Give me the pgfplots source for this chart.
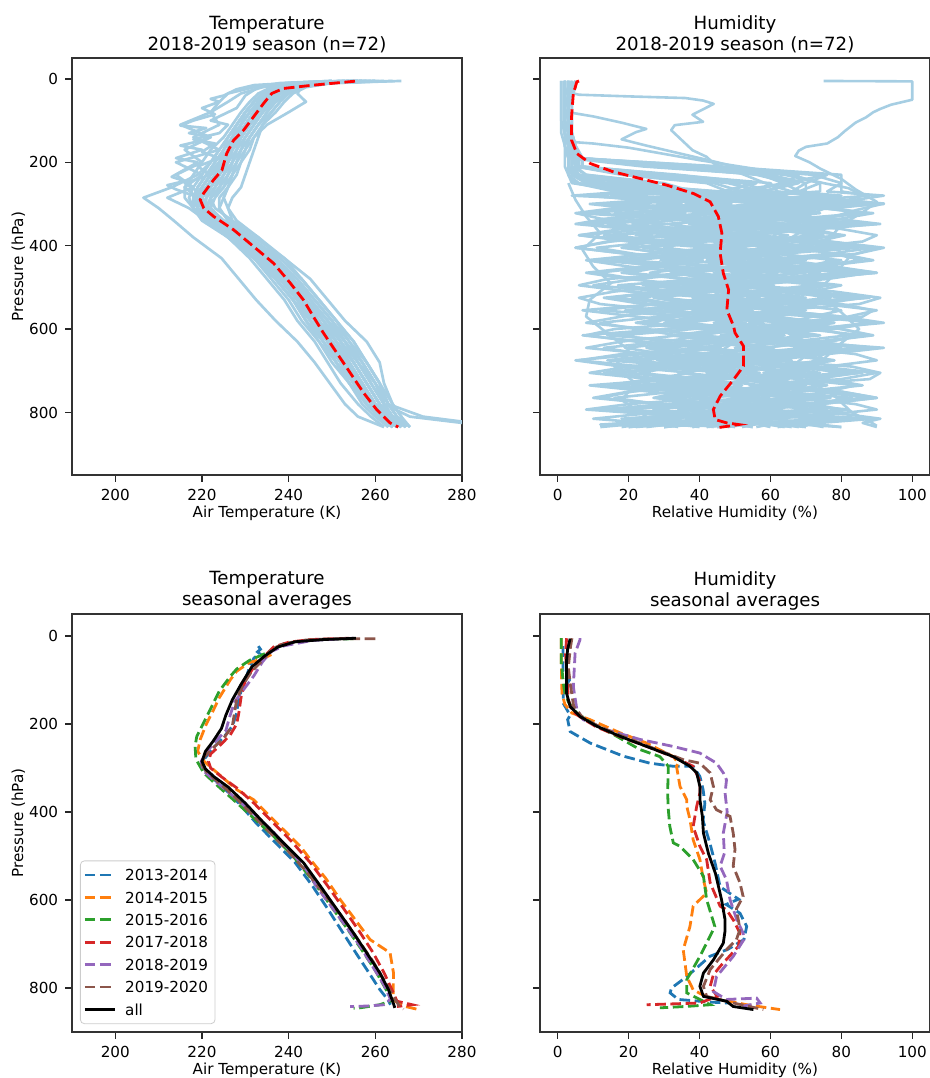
\documentclass[border=0pt]{standalone}
\usepackage{fontspec}
\setmainfont{DejaVu Sans}
\usepackage{pgfplots}
\usepackage{pgfplotstable}
\pgfplotsset{compat=1.18}
\definecolor{lb}{HTML}{A6CEE3}
\definecolor{c0}{HTML}{1F77B4}
\definecolor{c1}{HTML}{FF7F0E}
\definecolor{c2}{HTML}{2CA02C}
\definecolor{c3}{HTML}{D62728}
\definecolor{c4}{HTML}{9467BD}
\definecolor{c5}{HTML}{8C564B}

\pgfplotstableread{
p T1 T2 T3 T4 T5 T6 T7 T8 T9 T10 T11 T12 T13 T14 T15 T16 T17 T18 T19 T20 T21 T22 T23 T24 T25 T26 T27 T28 T29 T30 T31 T32 T33 T34
5 257 262 252 255 264 250 258 253 256 260 254 257 266 250 257 259 254 255 258 260 253 256 256 254 259 253 257 261 255 258 252 256 260 255
10 246 249 243 244 250 240 247 242 246 248 244 246 250 238 245 247 243 245 246 248 242 245 245 244 247 243 246 248 245 247 242 246 249 244
20 240 243 237 238 244 234 241 236 240 242 238 240 243 232 239 241 237 239 240 243 237 239 239 238 241 237 240 242 239 241 236 240 243 239
35 237 240 234 235 241 229 238 233 237 239 235 237 240 226 236 238 234 236 237 242 235 236 236 235 238 234 237 239 236 238 234 237 240 236
55 235 238 232 233 239 226 236 231 235 237 232 235 238 224 234 236 232 234 235 244 233 234 234 233 236 232 235 237 234 236 232 235 237 234
80 233 236 230 231 237 222 234 229 233 235 230 233 236 222 232 234 230 232 233 240 231 231 232 231 234 230 232 235 232 233 230 233 234 232
110 231 233 228 229 234 224 232 227 231 233 228 231 234 215 230 232 228 230 231 235 229 229 230 229 232 228 230 233 230 231 229 231 231 230
140 229 231 226 228 232 218 230 225 229 231 226 229 233 222 228 230 226 228 229 232 227 227 228 227 230 227 228 231 229 229 227 229 229 228
170 227 230 224 226 231 224 228 222 228 229 224 227 232 216 227 229 225 226 227 230 226 225 227 225 228 226 226 229 227 227 226 228 227 226
200 226 229 222 225 229 214 227 220 227 228 222 225 231 220 226 228 224 224 225 228 225 223 226 223 226 225 224 227 226 225 224 227 225 224
230 224 227 220 223 228 220 226 218 226 227 219 223 230 214 224 227 222 222 223 226 223 221 225 221 224 224 222 225 224 222 223 225 223 221
260 222 226 218 221 226 216 225 216 224 225 213 221 229 218 222 226 220 220 221 224 221 219 223 219 222 222 220 223 223 220 221 224 221 219
285 220 224 217 219 225 219 222 216 222 223 206.5 220 227 212 221 225 218 219 220 222 220 218 221 218 220 220 218 222 221 219 219 222 219 218
310 221 224 218 219 226 218 221 218 223 222 210 221 226 217 220 224 219 220 221 222 221 219 221 218 220 219 219 222 220 220 219 221 218 220
340 224 226 221 222 228 221 223 222 227 224 213.5 224 227 221 223 226 222 222 224 225 225 221 223 221 222 221 223 224 222 223 222 222 220 224
380 230 231 227 228 233 226 229 228 233 229 218 230 231 227 229 232 227 226 230 231 231 226 228 227 228 227 229 230 228 229 227 227 226 231
430 236 237 233 234 238 232 235 234 239 235 224.5 236 236 233 235 239 233 231 236 237 237 232 234 233 235 234 235 236 234 236 233 232 233 238
480 240 242 237 238 243 237 239 239 243 240 228.5 241 241 238 240 245 237 235 241 241 242 236 239 238 240 238 239 241 238 241 237 237 238 243
530 244 246 241 242 247 241 243 243 247 244 232.5 245 245 242 245 249 241 239 245 245 246 240 243 242 244 242 244 245 242 246 241 241 243 247
580 247 250 244 245 251 244 247 246 251 248 237 249 249 245 249 253 245 242 248 249 250 243 247 246 248 246 248 249 246 250 245 244 247 251
630 251 253 248 249 254 247 250 250 255 252 242 253 253 249 253 258 248 246 251 252 253 247 250 249 252 250 251 252 249 254 248 248 251 255
680 254 257 251 252 258 251 253 253 258 256 246 256 256 252 257 261 252 249 255 255 256 250 254 253 255 254 254 255 252 257 251 251 255 258
730 257 260 254 255 261 254 256 256 261 259 249.5 260 259 255 260 262 256 252 258 258 259 254 257 256 258 257 257 258 255 260 254 255 258 261
780 260 263 258 258 264 257 259 259 262 262 253 263 262 258 263 264 260 256 261 261 262 258 260 259 261 260 260 261 259 262 258 258 261 263
810 263 265 261 261 266 260 262 262 264 264 256 271 268 261 265 266 263 259 264 263 264 261 263 262 263 263 262 264 262 264 261 262 263 265
835 266 268 264 264 267 263 265 265 266 267 262 290 288 264 266 268 266 262 267 265 266 264 265 264 266 265 265 266 265 267 263 265 266 267
}\tabT

\pgfplotstableread{
p H1 H2 H3 H4 H5 H6 H7 H8 H9 H10 H11 H12 H13 H14 H15 H16 H17 H18 H19 H20 H21 H22 H23 H24 H25 H26 H27 H28 H29 H30 H31 H32 H33 H34
5 3 2 4 2 5 3 2 3 4 2 3 5 2 3 2 4 3 2 3 4 2 3 2 5 1 2 4 1 3 2 5 2 3 2
20 3 2 4 2 4 3 2 3 4 2 3 5 2 3 2 4 3 2 3 4 2 3 2 5 1 2 3 1 3 2 4 2 3 2
40 2 2 3 2 4 3 2 2 3 2 3 4 2 3 2 3 3 2 3 4 2 3 2 4 1 2 3 1 3 2 4 2 3 2
70 2 2 3 2 3 2 2 2 3 3 3 4 2 3 2 3 3 2 3 3 2 3 2 4 1 2 3 1 3 2 4 2 3 2
100 3 2 3 2 3 2 3 2 3 3 3 4 2 3 2 3 3 2 3 3 2 3 2 4 1 2 3 1 3 2 4 2 3 2
130 3 3 4 2 4 3 3 2 3 3 3 4 2 4 3 3 3 2 3 3 2 3 2 4 2 2 3 1 3 2 4 2 3 3
160 4 3 5 3 4 3 3 3 4 3 4 5 3 4 3 3 3 3 4 4 3 3 2 5 2 2 4 2 3 3 5 3 4 3
190 5 4 7 3 6 4 4 4 5 5 4 7 3 6 4 5 4 4 5 5 3 4 3 6 3 3 5 2 4 3 6 3 4 4
210 5 4 32 3 6 4 26 4 5 38 4 7 3 44 4 6 4 30 5 36 3 46 3 6 24 3 6 2 34 3 40 3 5 4
230 24 5 64 3 30 6 60 5 20 72 4 32 3 76 6 26 4 56 8 68 5 80 3 34 58 4 22 3 66 6 76 3 18 8
250 50 12 74 5 56 22 70 18 44 80 8 60 5 70 20 52 8 66 26 64 14 80 4 56 68 10 48 5 74 18 64 6 42 30
270 55 34 74 22 47 40 70 44 52 80 30 62 25 66 38 60 28 58 34 54 46 76 20 46 58 24 58 16 68 22 50 18 48 38
280 42 50 57 40 34 56 47 55 32 88 19 73 16 80 15 78 9 74 17 64 35 92 4 57 48 42 34 34 48 37 34 36 36 54
290 62 42 80 30 53 47 64 38 45 72 48 56 40 70 32 68 22 66 40 47 56 84 28 40 70 36 50 24 60 28 58 26 56 46
300 76 28 92 14 72 38 88 20 58 57 64 39 62 54 49 58 35 58 64 36 68 69 45 29 90 29 66 14 72 20 82 9 76 38
310 58 37 72 26 60 54 72 30 38 66 40 50 52 62 26 75 16 74 48 54 48 78 22 46 78 46 42 32 52 36 66 20 64 54
322 45 46 55 36 40 62 49 42 25 74 16 68 40 71 9 86 5 89 25 72 29 87 6 64 58 54 19 43 40 45 42 31 52 63
335 64 30 78 18 52 46 66 25 44 58 33 57 60 56 32 68 12 80 42 62 42 72 30 54 70 38 36 26 60 30 58 14 72 48
348 76 21 91 7 65 31 90 14 63 50 50 46 73 41 56 50 31 64 59 52 61 64 54 37 82 22 60 9 80 15 75 5 85 32
360 57 36 70 24 46 40 74 32 50 65 26 64 54 50 39 61 18 72 36 70 48 80 38 48 62 30 44 20 68 24 52 20 66 40
375 45 44 54 34 34 56 51 49 38 81 6 75 34 65 22 72 6 80 13 80 36 90 15 59 50 46 28 31 56 40 28 38 47 49
390 66 27 77 15 55 48 68 38 57 73 20 58 47 56 45 54 26 65 30 62 56 86 32 42 70 38 52 14 76 32 44 28 60 34
405 80 18 92 5 68 40 85 20 70 64 43 41 60 48 62 44 46 50 53 44 76 70 49 25 89 30 76 5 90 24 67 11 73 26
420 61 33 84 20 48 56 62 30 50 80 26 52 40 63 38 62 34 58 36 55 64 78 26 36 76 46 60 20 84 40 50 22 54 42
435 42 49 60 38 29 65 46 41 31 89 10 70 21 78 15 80 15 67 20 66 45 86 8 53 56 62 44 38 65 56 34 40 42 58
450 54 41 76 28 42 50 70 24 44 74 33 60 34 70 32 69 28 52 44 48 58 70 20 42 68 54 68 28 78 48 58 30 62 50
465 74 26 90 11 62 34 88 8 56 59 56 49 54 55 56 52 41 44 68 38 70 55 37 32 80 38 84 18 90 33 82 20 82 35
480 63 35 70 22 50 43 76 20 37 68 40 66 42 64 40 62 22 60 52 56 50 64 14 50 60 46 60 36 70 42 66 38 70 44
495 51 44 54 33 38 52 53 38 25 77 17 76 29 73 24 72 10 76 29 74 31 80 6 61 47 54 36 47 50 51 49 49 51 53
510 71 29 78 16 57 38 70 27 45 62 34 59 48 58 47 55 30 68 46 64 44 72 20 44 66 38 52 30 62 36 72 32 64 38
525 84 15 91 6 70 30 87 16 64 46 51 42 68 50 64 38 50 60 63 47 57 64 44 27 86 29 69 13 82 21 88 15 77 23
540 65 25 85 12 51 46 64 34 52 55 28 53 56 65 42 48 38 75 40 58 38 80 28 38 74 44 46 24 70 30 64 26 58 32
555 45 42 62 29 32 62 48 46 39 70 7 64 43 80 19 66 26 90 24 69 26 89 12 55 61 60 30 42 58 46 40 44 38 48
570 57 34 80 18 45 53 72 29 58 62 22 47 62 72 36 56 45 82 48 52 45 86 36 44 80 52 54 32 78 38 56 34 50 40
585 76 26 92 8 64 44 89 12 78 54 39 36 74 64 53 46 58 66 72 34 64 71 53 34 90 36 78 22 88 30 72 24 70 32
600 64 41 72 25 52 60 78 22 66 70 16 54 55 80 30 63 38 74 55 45 52 80 30 52 72 44 62 40 72 46 48 42 58 48
615 52 56 50 42 40 70 55 34 46 86 8 72 36 89 14 74 18 82 38 62 32 88 7 63 52 52 46 58 52 55 32 53 46 64
630 73 46 68 30 60 55 72 18 58 77 22 61 48 74 37 56 30 66 62 52 45 73 24 46 64 36 70 48 64 40 56 36 66 56
645 86 30 92 13 73 40 89 8 70 68 46 50 61 58 60 39 43 50 79 42 58 58 41 29 77 27 86 31 76 25 80 19 86 41
660 68 38 76 24 54 48 66 26 51 84 30 67 42 67 44 50 24 58 56 60 38 66 18 40 58 42 62 42 56 34 64 30 74 50
675 48 46 60 36 35 57 50 44 32 90 14 78 23 76 28 61 5 66 33 78 19 75 6 51 46 58 38 52 44 43 47 41 55 59
690 61 31 83 20 48 42 74 33 44 76 38 60 36 60 52 44 18 50 50 68 32 60 24 34 66 50 54 34 64 28 70 24 68 44
705 74 17 91 9 68 34 90 16 57 60 55 43 56 44 69 34 38 42 67 58 52 52 48 23 85 42 70 16 84 20 86 13 80 36
720 55 27 88 26 56 50 80 27 38 68 32 54 44 52 46 52 26 58 44 76 40 68 32 40 72 58 46 26 72 36 62 30 60 52
735 43 43 64 44 43 66 56 38 26 76 9 66 32 61 23 70 14 74 21 86 28 84 16 58 59 66 29 37 60 52 38 48 41 67
750 63 35 80 33 62 58 73 21 46 60 26 49 52 46 40 60 34 66 38 68 48 76 40 48 78 50 52 20 80 44 54 38 54 58
765 83 27 90 16 74 43 88 12 66 51 43 38 65 31 58 50 53 57 54 50 68 68 57 31 89 34 76 10 90 29 77 28 66 42
780 71 43 74 28 55 52 67 30 54 66 20 56 46 40 35 67 40 72 30 60 56 84 34 42 70 42 60 28 74 38 60 46 46 50
793 52 52 58 39 36 61 44 47 35 82 8 74 27 56 18 76 20 80 13 70 37 90 11 53 50 57 43 46 54 54 44 57 34 58
805 66 38 82 22 50 46 62 36 48 74 28 63 40 48 42 58 32 64 36 53 50 76 28 36 62 48 66 36 66 46 68 40 54 42
815 78 22 91 10 64 31 85 18 61 56 52 46 60 40 60 41 45 49 60 36 63 61 52 19 75 40 82 26 79 38 89 23 74 27
825 57 30 86 25 45 40 68 28 42 62 35 58 48 55 38 52 26 58 44 48 44 70 36 30 56 56 58 44 60 54 74 34 62 36
835 45 20 90 12 48 30 75 34 50 80 25 52 55 60 30 45 18 70 38 55 38 80 22 40 64 48 66 30 68 42 62 20 56 44
}\tabH

\pgfplotsset{
  prof/.style={
    scale only axis, width=195pt,
    y dir=reverse,
    tick align=outside, xtick pos=left, ytick pos=left,
    major tick length=3.4pt,
    every tick/.style={black!85, line width=0.77pt},
    axis line style={black!80, line width=0.77pt},
    tick label style={font=\fontsize{7.6}{9}\selectfont},
    label style={font=\fontsize{7.6}{9}\selectfont},
    title style={font=\fontsize{9.1}{10.5}\selectfont, align=center,
      at={(0.5,1)}, anchor=center, yshift=5.75pt},
    xlabel style={at={(axis description cs:0.5,-0.091)}, anchor=center},
    ylabel style={at={(axis description cs:-0.1377,0.5)}, anchor=center},
    /pgf/number format/assume math mode=true,
    ytick={0,200,400,600,800},
  },
  tprof/.style={lb, line width=1.35pt, line join=round},
  hprof/.style={lb, line width=1.3pt, line join=round},
  mdash/.style={line width=1.4pt, dash pattern=on 5.3pt off 2.3pt},
}

\begin{document}
\begin{tikzpicture}
\useasboundingbox (0,0) rectangle (465pt,-539pt);

% ---------- top left ----------
\begin{axis}[prof, at={(36pt,-237.5pt)}, anchor=south west, height=208.5pt,
  xmin=190, xmax=280, ymin=-50, ymax=950, xtick={200,220,...,280},
  title={Temperature\\2018-2019 season (n=72)},
  xlabel={Air Temperature (K)}, ylabel={Pressure (hPa)}]
\pgfplotsinvokeforeach{1,...,34}{\addplot[tprof] table[x=T#1,y=p]{\tabT};}
\addplot[tprof] coordinates {(250,5)(240,10)(232,15)(228,25)(225,40)(222,48)(224,55)(220,70)(223,85)(218,100)(215,112)(221,118)(217,130)(222,140)(219,150)(215,160)(220,170)(214,190)(219,200)(213,235)(216,245)(212,255)(214,265)(218,280)(220,300)(222,320)(225,345)(230,380)(235,430)(239,480)(243,530)(246,580)(249,630)(252,680)(255,730)(258,780)(261,810)(264,835)};
\addplot[tprof] coordinates {(240,12)(233,20)(230,40)(228,70)(222,100)(226,110)(224,130)(218,145)(223,155)(220,175)(224,190)(219,210)(222,230)(216,250)(219,270)(221,300)(223,330)(228,370)(234,420)(238,470)(242,520)(246,570)(249,620)(253,670)(256,720)(259,770)(262,805)(265,835)};
\addplot[red, mdash] coordinates {(255.3,5.6)(245.7,15)(238.8,23)(236.1,35)(234.2,59)(231.9,91)(229.6,123)(227.3,147)(225.7,179)(224.6,219)(222.7,242)(220.4,274)(219.6,290)(220.4,310)(222.7,330)(227.3,362)(231.9,402)(236.5,442)(240.4,490)(243.4,530)(245.7,570)(248,609)(251.1,657)(254.2,705)(257.3,753)(260.3,793)(263.4,825)(265.3,835)};
\end{axis}

% ---------- top right ----------
\begin{axis}[prof, at={(270pt,-237.5pt)}, anchor=south west, height=208.5pt,
  xmin=-5, xmax=105, ymin=-50, ymax=950, xtick={0,20,...,100}, yticklabels={},
  title={Humidity\\2018-2019 season (n=72)},
  xlabel={Relative Humidity (\%)}]
\pgfplotsinvokeforeach{1,...,34}{\addplot[hprof] table[x=H#1,y=p]{\tabH};}
\addplot[hprof] coordinates {(75,5)(100,6)(100,12)(100,50)(94,62)(91,72)(89,80)(87,92)(84,105)(81,125)(79,140)(76,155)(70,163)(68,172)(67,185)(71,200)(74,215)(80,240)(84,265)(90,295)(86,320)(80,350)(76,390)(82,430)(78,470)(73,510)(80,560)(85,600)(79,640)(74,680)(70,720)(78,760)(83,800)(88,822)(90,832)};
\addplot[hprof] coordinates {(2,30)(6,38)(20,42)(36,46)(41,52)(44,60)(38,86)(41,103)(33,111)(32,123)(35,147)(38,171)(42,187)(44,203)(52,228)(60,255)(70,280)(88,296)(92,299)(84,315)(74,340)(66,380)(58,420)(64,460)(72,500)(66,540)(60,580)(68,620)(75,660)(68,700)(62,740)(70,780)(76,810)(70,832)};
\addplot[hprof] coordinates {(3,80)(10,90)(18,105)(25,120)(22,128)(18,145)(25,160)(34,178)(45,200)(55,222)(62,245)(68,268)(60,290)(52,320)(45,350)(50,390)(57,430)(50,470)(44,510)(52,550)(58,590)(50,630)(43,670)(50,710)(57,750)(49,790)(42,815)(48,833)};
\addplot[hprof] coordinates {(2,150)(10,155)(20,165)(30,180)(40,195)(55,215)(66,232)(75,250)(82,262)(86,280)(78,300)(70,330)(62,370)(56,410)(62,450)(70,490)(64,530)(58,570)(65,610)(72,650)(66,690)(58,730)(64,770)(70,810)(64,832)};
\addplot[hprof] coordinates {(3,250)(5,290)(8,330)(12,370)(7,410)(10,450)(15,490)(9,530)(8,570)(14,610)(20,650)(16,690)(22,730)(18,770)(25,810)(15,830)};
\addplot[hprof] coordinates {(40,780)(35,805)(25,822)(12,829)(50,833)};
\addplot[red, mdash] coordinates {(6,5)(5.4,7)(4.4,35)(3.9,91)(3.9,147)(5.4,179)(9.2,203)(15.7,223)(23.3,239)(30.8,255)(38.3,275)(43,295)(45.3,330)(46.3,370)(45.8,418)(46.7,466)(48.2,506)(47.7,554)(49.6,593)(50,609)(52.4,641)(52.4,689)(49.6,721)(45.8,761)(43.9,793)(44.4,817)(47.7,825)(51,829)(48,833)(44.7,837)};
\end{axis}

% ---------- bottom left ----------
\begin{axis}[prof, at={(36pt,-516pt)}, anchor=south west, height=209pt,
  xmin=190, xmax=280, ymin=-50, ymax=900, xtick={200,220,...,280},
  title={Temperature\\seasonal averages},
  xlabel={Air Temperature (K)}, ylabel={Pressure (hPa)},
  legend cell align=left,
  legend image code/.code={\draw[#1] (0pt,0pt) -- (15pt,0pt);},
  legend style={at={(0.0205,0.019)}, anchor=south west, draw=black!20, rounded corners=2pt,
    fill=white, font=\fontsize{7.6}{9}\selectfont, inner sep=1.5pt, column sep=2.5pt,
    nodes={inner ysep=2.8pt, inner xsep=2pt, text height=5.6pt, text depth=0pt}, row sep=0pt}]
\addplot[c0, mdash] coordinates {(233,23)(233.5,30)(232.8,36)(233.3,40)(232,50)(231,70)(230,100)(228.5,140)(228,175)(227,205)(225,230)(222.5,255)(220.5,280)(220,295)(221.5,315)(224.5,340)(228.5,380)(232.5,425)(237,470)(241.5,515)(245.5,568)(249,620)(252.5,674)(255.5,720)(258.5,765)(261,803)(263,828)(263.5,838)};
\addlegendentry{2013-2014}
\addplot[c1, mdash] coordinates {(236,42)(234,52)(231,60)(228,80)(226.5,100)(224,140)(222.7,167)(221,200)(219.6,235)(219,262)(220.5,285)(222.7,304)(228,349)(231.9,372)(235.7,410)(242.7,478)(245,508)(248.5,550)(251.9,599)(255,640)(258.8,690)(263.4,720)(264.2,766)(264.1,819)(264.6,830)(266.5,841)(270,849)};
\addlegendentry{2014-2015}
\addplot[c2, mdash] coordinates {(255,6)(246,9)(240,16)(238,24)(235,38)(231,55)(228,75)(226.5,92)(224,125)(221.9,167)(218.8,228)(218.4,250)(218.6,280)(220.4,311)(223,335)(227,370)(231.5,410)(236.5,455)(241,500)(245.5,555)(249.5,610)(253.5,665)(257,715)(260,760)(262,795)(263.5,822)(264,828)(261,838)(256.5,845)(255,846)};
\addlegendentry{2015-2016}
\addplot[c3, mdash] coordinates {(254,5)(245,8)(240,14)(236.5,25)(234.5,45)(232,70)(230,100)(229,140)(228.5,175)(228,200)(226.5,225)(224,250)(222,268)(221.5,285)(222,300)(224.5,320)(228,345)(232,380)(236,420)(240.5,465)(245,515)(249,568)(252.8,621)(256.5,674)(259.5,720)(262,765)(263.8,803)(265,830)(268.5,838)(265,842)};
\addlegendentry{2017-2018}
\addplot[c4, mdash] coordinates {(255,5)(245.5,10)(239,22)(236,35)(234,58)(232,90)(229.5,123)(227.5,150)(226.5,180)(225.5,215)(223,240)(221,265)(219.8,285)(220.2,305)(222.5,325)(226.5,358)(231.5,400)(236,440)(240.5,490)(244,530)(246.5,570)(249.5,610)(253,657)(256.5,705)(259.5,753)(262,793)(263.5,825)(262,838)(258,841)(254.2,842)};
\addlegendentry{2018-2019}
\addplot[c5, mdash] coordinates {(260,6)(250,6)(244,9)(239,17)(236,30)(234,55)(231.5,80)(229.5,110)(228,145)(227.5,175)(227,205)(225,232)(222.5,255)(220.5,275)(220,292)(221,308)(223.5,330)(227,360)(231,400)(235.5,445)(240,490)(244.5,540)(248.5,590)(252.5,640)(256,690)(259.5,740)(262.5,790)(264.5,825)(265.5,840)(266.5,848)};
\addlegendentry{2019-2020}
\addplot[black, line width=1.4pt] coordinates {(255.5,5)(248,8)(241.5,13)(237.5,25)(234.5,45)(231.5,70)(229,110)(227,145)(225.5,180)(224.5,210)(222.5,240)(220.8,262)(220,285)(220.8,302)(222.8,320)(226,343)(230,380)(234.2,424)(238.8,470)(243.4,515)(247.3,568)(251.1,621)(254.9,674)(258,720)(261,765)(263,803)(264.1,833)(264.5,845)};
\addlegendentry{all}
\end{axis}

% ---------- bottom right ----------
\begin{axis}[prof, at={(270pt,-516pt)}, anchor=south west, height=209pt,
  xmin=-5, xmax=105, ymin=-50, ymax=900, xtick={0,20,...,100}, yticklabels={},
  title={Humidity\\seasonal averages},
  xlabel={Relative Humidity (\%)}]
\addplot[c0, mdash] coordinates {(1.5,23)(1.5,80)(3.3,100)(1.6,122)(1.5,152)(3.5,180)(2.8,190)(3.5,217)(9.1,243)(18.5,273)(26,289)(32.6,296)(38.2,296)(40.1,319)(41,349)(41.5,380)(41,420)(42.9,470)(44.5,520)(45.8,570)(51,598)(47.5,610)(51.4,630)(53.3,660)(52.5,690)(48,712)(42.9,728)(36.4,774)(32.1,800)(31.7,811)(34,826)(43,832)(48,834)};
\addplot[c1, mdash] coordinates {(1,5)(1,60)(1.2,130)(2,155)(4,175)(9.1,190)(17.6,220)(25,243)(32.6,274)(34,289)(33.5,296)(34.5,342)(36.4,372)(36.4,387)(37.3,417)(38.2,463)(40.1,508)(41.1,554)(42,584)(40.1,599)(38.2,614)(37.3,660)(35.4,713)(36.4,774)(38.2,804)(42,820)(45.8,826)(53.3,838)(62.7,849)};
\addplot[c2, mdash] coordinates {(1,5)(1,60)(1.5,100)(1.8,120)(3,150)(5.4,175)(10,200)(16,225)(23.2,258)(28.8,274)(31.2,296)(31,357)(31.2,395)(31.6,432)(32.6,470)(34.5,478)(38.2,508)(41.1,546)(42,599)(44.3,660)(42,698)(40.1,728)(36.4,781)(36.4,811)(40.1,826)(43,838)(36,842)(28.8,845)};
\addplot[c3, mdash] coordinates {(2.5,5)(2.2,40)(2.5,76)(3,145)(4,170)(6.5,185)(11,207)(18,230)(25.5,252)(33,276)(38.2,296)(40.1,330)(40.1,357)(39.2,387)(38.2,433)(40.1,478)(42,508)(43,561)(45.8,614)(47.6,622)(49.5,645)(51.4,675)(51,705)(45.8,751)(43.9,770)(43,796)(45,819)(40.1,834)(25.1,838)};
\addplot[c4, mdash] coordinates {(6.3,5)(6.3,8)(4.9,39)(4.4,115)(5.4,167)(7.2,190)(13.8,213)(23.2,235)(32.6,251)(40.1,266)(44.8,289)(46.7,311)(47.6,327)(47.2,357)(47.8,400)(46.7,448)(47,494)(45.8,523)(47.6,554)(48.6,599)(50.5,645)(52.3,675)(52.5,690)(49.5,728)(44.8,774)(43.9,808)(47.6,826)(56.1,823)(57.1,834)(52.3,841)};
\addplot[c5, mdash] coordinates {(4,5)(3.5,30)(3,71)(3.5,107)(4.5,160)(7,185)(12,207)(19,230)(27,255)(35.4,281)(40.1,289)(43,311)(43.9,342)(43,372)(44.8,395)(48.6,410)(49.5,448)(50,485)(49.5,523)(51.4,561)(52.3,592)(50.4,620)(51.4,667)(50.4,690)(47.6,713)(43,758)(41.1,796)(42,819)(49.5,834)(58,849)};
\addplot[black, line width=1.4pt] coordinates {(3.5,6)(2.8,30)(2.5,54)(2.5,130)(3.5,160)(6.3,183)(11,205)(17.6,228)(25.1,251)(32.6,274)(37.3,296)(39.2,311)(40.1,342)(40.1,372)(40.8,410)(41.1,448)(42.5,494)(44.5,540)(46.2,599)(47.2,645)(47.2,670)(46.7,698)(43.9,736)(41.1,766)(40.1,796)(41.1,819)(47.6,830)(49.5,842)(55.2,849)};
\end{axis}
\end{tikzpicture}
\end{document}
